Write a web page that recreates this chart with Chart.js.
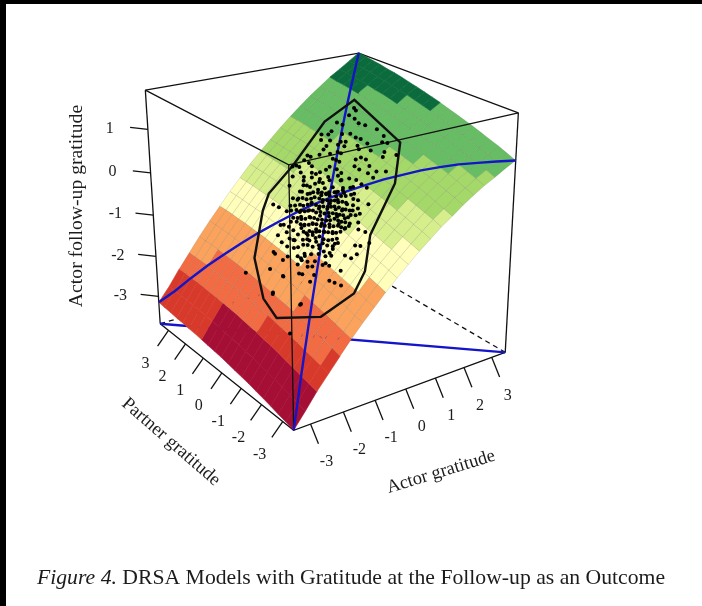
<!DOCTYPE html>
<html>
<head>
<meta charset="utf-8">
<title>DRSA surface</title>
<script src="https://cdn.jsdelivr.net/npm/chart.js@4"></script>
<style>
   html, body { margin: 0; padding: 0; background: #fff; overflow: hidden; }
   #chart { position: absolute; left: 0; top: 0; filter: blur(.45px); }
   .edge { position: absolute; left: 0; top: 0; background: #000; }
</style>
</head>
<body>
<canvas id="chart" width="702" height="606"></canvas>
<div class="edge" style="width:702px;height:4px"></div>
<div class="edge" style="width:6px;height:606px"></div>
<script>
// Axis ticks
const actorTicks   = [-3, -2, -1, 0, 1, 2, 3];
const partnerTicks = [-3, -2, -1, 0, 1, 2, 3];
const outcomeTicks = [-3, -2, -1, 0, 1];

// Limits of the box
const actorMin = -3.5, actorMax = 3.5;
const partnerMin = -3.5, partnerMax = 3.5;
const outcomeMin = -3.7, outcomeMax = 1.88;

// Grid of the surface (rows: actor, columns: partner)
const gridValues = [-3.5, -3.15, -2.8, -2.45, -2.1, -1.75, -1.4, -1.05, -0.7, -0.35, 0, 0.35, 0.7, 1.05, 1.4, 1.75, 2.1, 2.45, 2.8, 3.15, 3.5];
const surfaceZ = [
   [-3.70, -3.65, -3.61, -3.56, -3.52, -3.48, -3.44, -3.41, -3.38, -3.35, -3.32, -3.30, -3.28, -3.26, -3.24, -3.23, -3.21, -3.20, -3.18, -3.17, -3.15],
   [-3.36, -3.31, -3.26, -3.21, -3.17, -3.13, -3.09, -3.05, -3.02, -2.99, -2.96, -2.94, -2.91, -2.89, -2.88, -2.86, -2.85, -2.84, -2.84, -2.83, -2.83],
   [-3.01, -2.96, -2.91, -2.86, -2.82, -2.77, -2.73, -2.70, -2.66, -2.63, -2.60, -2.57, -2.55, -2.53, -2.51, -2.50, -2.48, -2.47, -2.47, -2.46, -2.46],
   [-2.70, -2.64, -2.59, -2.54, -2.49, -2.45, -2.41, -2.37, -2.33, -2.30, -2.27, -2.24, -2.22, -2.20, -2.18, -2.16, -2.15, -2.13, -2.12, -2.12, -2.12],
   [-2.39, -2.33, -2.28, -2.23, -2.18, -2.14, -2.09, -2.05, -2.02, -1.98, -1.95, -1.92, -1.89, -1.87, -1.85, -1.83, -1.82, -1.80, -1.79, -1.79, -1.78],
   [-2.09, -2.04, -1.98, -1.93, -1.88, -1.83, -1.79, -1.75, -1.71, -1.67, -1.64, -1.61, -1.58, -1.56, -1.54, -1.52, -1.50, -1.48, -1.47, -1.46, -1.46],
   [-1.81, -1.76, -1.70, -1.65, -1.60, -1.55, -1.50, -1.46, -1.42, -1.38, -1.35, -1.32, -1.29, -1.26, -1.24, -1.22, -1.20, -1.19, -1.17, -1.16, -1.16],
   [-1.55, -1.49, -1.43, -1.38, -1.33, -1.28, -1.23, -1.19, -1.14, -1.11, -1.07, -1.04, -1.01, -0.98, -0.96, -0.93, -0.91, -0.90, -0.88, -0.87, -0.86],
   [-1.29, -1.23, -1.17, -1.12, -1.06, -1.01, -0.97, -0.92, -0.88, -0.84, -0.80, -0.77, -0.73, -0.71, -0.68, -0.66, -0.64, -0.62, -0.60, -0.59, -0.58],
   [-1.05, -0.98, -0.92, -0.87, -0.81, -0.76, -0.71, -0.66, -0.62, -0.58, -0.54, -0.50, -0.47, -0.44, -0.41, -0.39, -0.37, -0.35, -0.33, -0.32, -0.30],
   [-0.82, -0.76, -0.69, -0.64, -0.58, -0.53, -0.48, -0.43, -0.38, -0.34, -0.30, -0.26, -0.23, -0.20, -0.17, -0.14, -0.12, -0.10, -0.08, -0.06, -0.05],
   [-0.60, -0.54, -0.48, -0.42, -0.36, -0.30, -0.25, -0.20, -0.16, -0.11, -0.07, -0.03, 0.01, 0.04, 0.07, 0.10, 0.12, 0.14, 0.16, 0.18, 0.19],
   [-0.40, -0.33, -0.27, -0.21, -0.15, -0.09, -0.04, 0.01, 0.06, 0.11, 0.15, 0.19, 0.23, 0.26, 0.29, 0.32, 0.35, 0.37, 0.39, 0.41, 0.43],
   [-0.20, -0.13, -0.07, -0.01, 0.05, 0.11, 0.17, 0.22, 0.27, 0.32, 0.36, 0.40, 0.44, 0.48, 0.51, 0.54, 0.57, 0.59, 0.62, 0.64, 0.65],
   [-0.03, 0.04, 0.11, 0.18, 0.24, 0.30, 0.35, 0.41, 0.46, 0.51, 0.55, 0.59, 0.63, 0.67, 0.70, 0.74, 0.77, 0.79, 0.82, 0.84, 0.86],
   [0.15, 0.23, 0.29, 0.36, 0.42, 0.48, 0.54, 0.59, 0.65, 0.69, 0.74, 0.78, 0.83, 0.86, 0.90, 0.93, 0.96, 0.99, 1.02, 1.04, 1.06],
   [0.31, 0.38, 0.45, 0.52, 0.58, 0.64, 0.70, 0.76, 0.81, 0.86, 0.91, 0.96, 1.00, 1.04, 1.07, 1.11, 1.14, 1.17, 1.20, 1.22, 1.24],
   [0.46, 0.53, 0.60, 0.67, 0.73, 0.80, 0.86, 0.91, 0.97, 1.02, 1.07, 1.12, 1.16, 1.20, 1.24, 1.28, 1.31, 1.34, 1.37, 1.39, 1.42],
   [0.58, 0.66, 0.73, 0.80, 0.86, 0.93, 0.99, 1.05, 1.11, 1.16, 1.21, 1.26, 1.30, 1.35, 1.39, 1.42, 1.46, 1.49, 1.52, 1.55, 1.57],
   [0.72, 0.79, 0.87, 0.94, 1.01, 1.07, 1.13, 1.20, 1.25, 1.31, 1.36, 1.41, 1.46, 1.50, 1.54, 1.58, 1.62, 1.65, 1.68, 1.71, 1.73],
   [0.84, 0.92, 1.00, 1.07, 1.14, 1.21, 1.27, 1.33, 1.39, 1.45, 1.50, 1.55, 1.60, 1.64, 1.69, 1.73, 1.76, 1.80, 1.83, 1.86, 1.89]
];

// Colour bands of the surface
const bandBreaks = [-2.49, -1.96, -1.28, -0.61, -0.02, 0.6, 1.38];
const bandColors = ["#D73A2B", "#F26B43", "#FBA35C", "#FFFFBB", "#D6EE8C", "#A4D869", "#66BD63", "#0B6B3C"];
// The darkest red patch: first strips of actor cells, first partner columns
const maroonColor = "#A50F35";
const maroonStrips = 2, maroonColumns = 13;
// Wireframe does not show on these
const plainColors = [maroonColor, "#D73A2B", "#0B6B3C"];

// Outer hull of the observations
const hullActor   = [0.12, 1.37, 2.25, 1.99, 1.13, -0.06, -0.67, -1.12, -1.84, -2.38, -2.28, -1.82, -1.0, -0.65, 0.12];
const hullPartner = [1.96, 2.2, 1.98, -0.52, -1.43, -1.96, -2.57, -2.72, -2.28, -1.02, -0.22, 0.95, 1.8, 2.03, 1.96];

// Observations
const pointActor = [
   2.06, 2.03, 1.83, 1.83, 1.51, 1.79, 1.84, 1.26, 1.15, 1.06, 0.95, 1.54, 1.35, 1.46, 1.92, 1.50, 1.46, 1.24, 1.17, 1.05,
   0.90, 0.80, 1.07, 1.13, 1.32, 1.50, 1.88, 1.73, 1.79, 1.27, 0.93, 0.95, 0.74, 0.76, 0.77, 0.80, 0.65, 1.41, 1.57, 1.68,
   1.45, 1.14, 1.17, 1.03, 0.50, 0.48, 0.35, 0.36, 0.16, 0.17, 0.10, -0.08, 0.09, 0.34, 0.22, 0.33, 0.55, 0.59, 0.89, 0.89,
   1.09, 0.94, 1.09, 1.22, 0.93, 0.60, 0.47, 0.66, 0.21, 0.14, -0.02, -0.06, 0.07, 0.18, 0.31, 0.23, 0.11, 0.00, 0.04, 0.19,
   0.31, 0.50, 0.66, 0.67, -0.28,
   -0.76, -0.73, -0.78, -1.02, -0.98, -1.21, -1.27, -1.27, -1.21, -1.12, -1.51, -1.52, -1.41, -1.52, -1.29, -1.28, -1.17, -1.41, -1.80, -1.75,
   -1.52, -1.49, -1.50, -1.32, -1.26, -1.36, -1.11, -1.04, -1.25, -1.21, -1.17, -0.97, -0.87, -0.60, -0.70, -0.66, -0.53, -0.42, -0.36, -0.20,
   -0.08, -0.13, 0.14, -0.02, 0.41, -2.11, -1.93, -2.13, -1.75, -2.09, -2.42, -1.91,
   -0.23, -0.16, -0.05, 0.03, 0.17, 0.19, 0.34, 0.34, -0.39, -0.30, -0.17, -0.11, -0.02, 0.08, 0.14, 0.19, -0.54, -0.45, -0.32, -0.26,
   -0.16, -0.07, -0.01, 0.06, -0.67, -0.59, -0.47, -0.40, -0.31, -0.20, -0.14, -0.07, 0.06, -0.76, -0.68, -0.55, -0.49, -0.40, -0.27, -0.23,
   -0.15, -0.78, -0.73, -0.61, -0.55, -0.46, -0.34, -0.30, -0.82, -0.77, -0.66, -0.60, -0.52, -0.95, -0.84, -0.79, -0.73, -0.68, -0.96, -0.91,
   -0.85, -0.79, -0.97, -1.00, -0.91, -1.09, -0.71, -1.06,
   -0.10, -0.05, 0.05, 0.12, 0.25, -0.33, -0.24, -0.13, -0.06, 0.03, 0.11, -0.47, -0.38, -0.28, -0.21, -0.12, -0.03, 0.02, -0.60, -0.52,
   -0.41, -0.34, -0.25, -0.17, -0.10, -0.71, -0.63, -0.51, -0.44, -0.35, -0.25, -0.19, -0.77, -0.68, -0.58, -0.50, -0.40, -0.32, -0.85, -0.75,
   -0.65, -0.56, -0.47, -0.92, -0.80, -0.72, -0.62, -0.98, -0.87, -0.77, -0.20, 0.00, 0.10, 0.22, 0.28, -0.42, -0.30, -0.15, -0.08, 0.05,
   0.13, -0.55, -0.45, -0.30, -0.20, -0.10, -0.04, -0.65, -0.55, -0.40, -0.30, -0.20, -0.13, -0.75, -0.62, -0.50, -0.42, -0.30, -0.85, -0.70,
   -0.60, -0.50, -0.40,
   -1.00, -0.95, -1.10, -1.15, -1.20, -1.05, -0.85, -0.75, -0.65, -0.90, -1.25, -1.30, -0.55, -0.28, -0.20, 0.00, 0.10, 0.20, 0.30, 0.40,
   0.45, 0.35, 0.45, 0.50, 0.35, 0.15, -0.05, -0.25, -0.45, -0.60, -0.85, -0.95, -1.10, -1.15, -1.05, -0.10, 0.25, 0.05, 0.45, 0.60
];
const pointPartner = [
   1.73, 1.60, 1.65, 1.38, 1.79, 1.13, 0.89, 1.70, 1.70, 1.91, 1.77, 1.56, 1.31, 1.07, 0.45, 0.63, 0.81, 0.98, 1.12, 1.47,
   1.43, 1.43, 1.11, 0.89, 0.53, 0.32, 0.08, -0.05, -0.21, 0.40, 0.93, 0.80, 0.89, 0.76, 0.62, 1.11, 1.41, 0.04, -0.37, -0.76,
   -0.46, 0.12, -0.07, 0.21, 1.63, 1.76, 1.73, 1.51, 1.85, 1.71, 1.95, 1.67, 1.52, 1.33, 1.16, 0.92, 0.77, 0.27, 0.07, -0.15,
   -0.34, -0.48, -0.66, -0.91, -0.73, -0.09, 0.09, -0.33, 0.75, 1.04, 1.21, 0.99, 0.78, 0.56, 0.43, 0.16, 0.37, 0.53, 0.20, -0.06,
   -0.20, -0.41, -0.57, -0.80, 1.53,
   1.34, 0.99, 1.60, 0.86, 0.76, 0.70, 0.42, 0.15, -0.09, 0.26, 0.46, 0.37, -0.09, -0.02, -0.39, -0.53, -0.54, -0.57, 0.19, -0.39,
   -0.80, -0.91, -1.29, -0.91, -1.04, -1.27, -1.30, -1.50, -1.81, -1.99, -2.22, -1.92, -1.35, -1.27, -1.73, -1.95, -2.02, -1.79, -1.94, -2.11,
   -1.77, -1.53, -1.22, -1.37, -1.23, -0.42, -1.46, 0.91, -0.37, -0.40, -1.72, -1.47,
   0.98, 0.69, 0.46, 0.18, -0.01, -0.29, -0.54, -0.86, 0.92, 0.65, 0.45, 0.14, -0.12, -0.29, -0.59, -0.84, 0.86, 0.59, 0.39, 0.08,
   -0.17, -0.35, -0.65, -0.87, 0.86, 0.55, 0.33, 0.04, -0.23, -0.46, -0.69, -0.98, -1.14, 0.62, 0.34, 0.14, -0.17, -0.44, -0.64, -0.90,
   -1.17, 0.42, 0.11, -0.10, -0.41, -0.68, -0.90, -1.15, 0.13, -0.18, -0.34, -0.64, -0.91, 0.33, -0.14, -0.37, -0.60, -0.94, 0.09, -0.39,
   -0.62, -0.84, -0.63, -0.44, -0.86, 0.06, -1.19, 0.49,
   0.62, 0.30, 0.05, -0.16, -0.42, 0.80, 0.52, 0.28, 0.00, -0.22, -0.46, 0.72, 0.48, 0.22, -0.03, -0.26, -0.50, -0.74, 0.70, 0.42,
   0.18, -0.08, -0.34, -0.58, -0.80, 0.48, 0.22, -0.03, -0.30, -0.55, -0.78, -1.02, 0.24, -0.02, -0.24, -0.52, -0.78, -1.02, -0.02, -0.30,
   -0.48, -0.76, -1.00, -0.30, -0.52, -0.78, -1.04, -0.18, -0.78, -1.02, 0.75, 0.35, 0.15, -0.10, -0.30, 0.92, 0.40, 0.10, -0.15, -0.36,
   -0.65, 0.55, 0.30, 0.05, -0.20, -0.45, -0.66, 0.40, 0.10, -0.15, -0.42, -0.66, -0.92, 0.10, -0.12, -0.38, -0.62, -0.88, -0.22, -0.40,
   -0.62, -0.88, -1.10,
   -0.95, -1.20, -0.75, -1.00, -0.60, -1.35, -1.25, -1.25, -1.20, -1.05, -0.80, -0.60, -1.15, -1.15, -1.20, -1.00, -0.95, -1.05, -0.70, -0.60,
   -0.35, -0.15, 0.10, 0.30, 0.55, 0.70, 0.85, 1.05, 1.10, 1.00, 0.60, 0.55, 0.10, -0.20, -0.30, 1.10, 1.00, 1.30, 0.80, 0.50
];

// Camera of the persp view, read from the corners of the box
const camOrigin = { x: 293, y: 432 };
const camActor  = { x: 214, y: -79,  w: 0.127 };
const camPartner = { x: -135, y: -108, w: 0.164 };
const camOutcome = { x: -5, y: -269, w: -0.086 };

function project(actor, partner, outcome) {
   const u = (actor - actorMin) / (actorMax - actorMin);
   const v = (partner - partnerMin) / (partnerMax - partnerMin);
   const t = (outcome - outcomeMin) / (outcomeMax - outcomeMin);
   const d = 1 + camActor.w * u + camPartner.w * v + camOutcome.w * t;
   const a = u * (1 + camActor.w), b = v * (1 + camPartner.w), c = t * (1 + camOutcome.w);
   return {
      x: camOrigin.x + (a * camActor.x + b * camPartner.x + c * camOutcome.x) / d,
      y: camOrigin.y + (a * camActor.y + b * camPartner.y + c * camOutcome.y) / d
   };
}

// Height of the surface under an observation
function surfaceAt(actor, partner) {
   const step = gridValues[1] - gridValues[0];
   const fa = (actor - gridValues[0]) / step, fp = (partner - gridValues[0]) / step;
   const i = Math.min(Math.floor(fa), gridValues.length - 2), j = Math.min(Math.floor(fp), gridValues.length - 2);
   const s = fa - i, r = fp - j;
   return (1 - s) * ((1 - r) * surfaceZ[i][j] + r * surfaceZ[i][j + 1]) +
      s * ((1 - r) * surfaceZ[i + 1][j] + r * surfaceZ[i + 1][j + 1]);
}

function bandColor(z) {
   let k = 0;
   while (k < bandBreaks.length && z >= bandBreaks[k]) k++;
   return bandColors[k];
}

const datasets = [];
function addLine(points, color, width, extra) {
   datasets.push(Object.assign({
      data: points,
      showLine: true,
      borderColor: color,
      borderWidth: width,
      pointRadius: 0,
      tension: 0
   }, extra || {}));
}
const boxLine = "#111";
const boxWidth = 1.3;
const last = gridValues.length - 1;

// Behind the surface
addLine([project(actorMax, partnerMin, outcomeMin), project(actorMax, partnerMax, outcomeMin)], boxLine, boxWidth, { borderDash: [5, 4] });
addLine([project(actorMin, partnerMax, outcomeMin), project(actorMax, partnerMax, outcomeMin)], boxLine, boxWidth, { borderDash: [5, 4] });
addLine([project(actorMax, partnerMax, outcomeMin), project(actorMax, partnerMax, outcomeMax)], boxLine, boxWidth, { borderDash: [5, 4] });
addLine([project(actorMin, partnerMax, outcomeMax), project(actorMax, partnerMax, outcomeMax), project(actorMax, partnerMin, outcomeMax)], boxLine, boxWidth);
addLine([project(actorMin, partnerMax, outcomeMin), project(actorMin, partnerMin, outcomeMin), project(actorMax, partnerMin, outcomeMin)], boxLine, boxWidth);
addLine([project(actorMin, partnerMax, outcomeMin), project(actorMin, partnerMax, outcomeMax)], boxLine, boxWidth);
addLine([project(actorMax, partnerMin, outcomeMin), project(actorMax, partnerMin, outcomeMax)], boxLine, boxWidth);
addLine([project(actorMin, partnerMax, outcomeMin), project(actorMax, partnerMin, outcomeMin)], "#1414C8", 2.4);

// Surface cells
for (let i = 0; i < last; i++) {
   for (let j = 0; j < last; j++) {
      const zs = [surfaceZ[i][j], surfaceZ[i + 1][j], surfaceZ[i + 1][j + 1], surfaceZ[i][j + 1]];
      const mean = (zs[0] + zs[1] + zs[2] + zs[3]) / 4;
      const color = (i < maroonStrips && j < maroonColumns) ? maroonColor : bandColor(mean);
      const wire = plainColors.includes(color) ? color : "rgba(60, 60, 40, .22)";
      const p1 = project(gridValues[i], gridValues[j], zs[0]);
      addLine([
         p1,
         project(gridValues[i + 1], gridValues[j], zs[1]),
         project(gridValues[i + 1], gridValues[j + 1], zs[2]),
         project(gridValues[i], gridValues[j + 1], zs[3]),
         p1
      ], wire, 0.6, { fill: "shape", backgroundColor: color });
   }
}

// In front of the surface
addLine([project(actorMin, partnerMax, outcomeMax), project(actorMin, partnerMin, outcomeMax), project(actorMax, partnerMin, outcomeMax)], boxLine, boxWidth);
addLine([project(actorMin, partnerMin, outcomeMax), project(actorMin, partnerMin, outcomeMin)], boxLine, boxWidth);

addLine(gridValues.map((g, i) => project(g, g, surfaceZ[i][i])), "#1414C8", 2.4);
addLine(gridValues.map((g, i) => project(g, gridValues[last - i], surfaceZ[i][last - i])), "#1414C8", 2.4);
addLine(hullActor.map((a, i) => project(a, hullPartner[i], surfaceAt(a, hullPartner[i]))), "#111", 2.4);

datasets.push({
   data: pointActor.map((a, i) => project(a, pointPartner[i], surfaceAt(a, pointPartner[i]))),
   pointRadius: 2,
   pointBorderWidth: 0,
   pointBackgroundColor: "#000"
});

// Ticks
const actorTickLen = { x: 8, y: 20 }, partnerTickLen = { x: -11, y: 16 }, outcomeTickLen = { x: -18, y: -2 };
function addTick(from, len) {
   addLine([from, { x: from.x + len.x, y: from.y + len.y }], boxLine, boxWidth);
}
actorTicks.forEach(v => addTick(project(v, partnerMin, outcomeMin), actorTickLen));
partnerTicks.forEach(v => addTick(project(actorMin, v, outcomeMin), partnerTickLen));
outcomeTicks.forEach(v => addTick(project(actorMin, partnerMax, v), outcomeTickLen));

// first one in the list is painted first
datasets.forEach((d, i) => { d.order = datasets.length - i; });

const serif = '"Liberation Serif", serif';
const textColor = "#1c1c1c";

const textPlugin = {
   id: "surfaceText",
   afterDraw(chart) {
      const ctx = chart.ctx;
      const sx = chart.scales.x, sy = chart.scales.y;
      const put = (text, p, dx, dy) => ctx.fillText(text, sx.getPixelForValue(p.x) + dx, sy.getPixelForValue(p.y) + dy);
      const turned = (text, x, y, angle, font) => {
         ctx.save();
         ctx.translate(x, y);
         ctx.rotate(angle * Math.PI / 180);
         ctx.font = font;
         ctx.fillText(text, 0, 0);
         ctx.restore();
      };
      ctx.save();
      ctx.fillStyle = textColor;
      ctx.textAlign = "center";
      ctx.textBaseline = "middle";
      ctx.font = "16px " + serif;
      actorTicks.forEach(v => put(String(v), project(v, partnerMin, outcomeMin), 16, 38));
      partnerTicks.forEach(v => put(String(v), project(actorMin, v, outcomeMin), -23, 33));
      outcomeTicks.forEach(v => put(String(v), project(actorMin, partnerMax, v), -38, -1));
      turned("Actor follow-up gratitude", 77, 206, -90, "19.7px " + serif);
      turned("Partner gratitude", 171, 442, 41, "18.5px " + serif);
      turned("Actor gratitude", 441, 472, -17, "18.5px " + serif);

      // caption
      ctx.textAlign = "left";
      ctx.textBaseline = "alphabetic";
      ctx.font = "italic 21.7px " + serif;
      ctx.fillText("Figure 4.", 37, 584);
      const w = ctx.measureText("Figure 4. ").width;
      ctx.font = "21.7px " + serif;
      ctx.fillText("DRSA Models with Gratitude at the Follow-up as an Outcome", 37 + w, 584);
      ctx.restore();
   }
};

new Chart(document.getElementById("chart"), {
   type: "scatter",
   data: { datasets: datasets },
   plugins: [textPlugin],
   options: {
      responsive: false,
      animation: false,
      layout: { padding: 0 },
      plugins: { legend: { display: false }, tooltip: { enabled: false } },
      scales: {
         x: { type: "linear", display: false, min: 0, max: 702 },
         y: { type: "linear", display: false, min: 0, max: 606, reverse: true }
      }
   }
});
</script>
</body>
</html>
